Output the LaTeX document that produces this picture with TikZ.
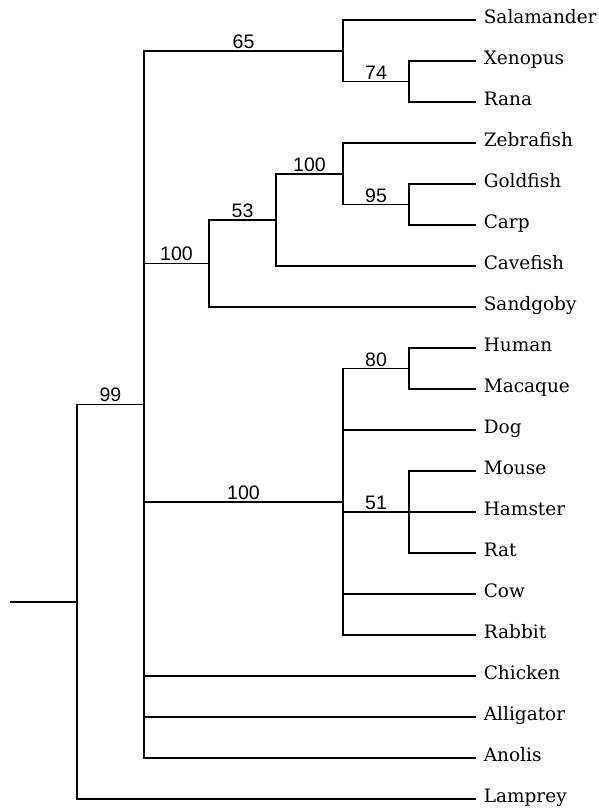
\documentclass[tikz,border=0pt]{standalone}
\usepackage{fontspec}
\newfontfamily\bootfont{Liberation Sans}
\newfontfamily\taxonfont{DejaVu Serif}

\begin{document}
\begin{tikzpicture}[x=1pt,y=-1pt,line width=1.6pt,
    leaf/.style={anchor=west,inner xsep=7pt,inner ysep=0pt,text height=0.72em,text depth=0pt,
                 font=\taxonfont\fontsize{18.5}{22}\selectfont},
    boot/.style={above,pos=0.75,inner sep=1.5pt,font=\bootfont\fontsize{19.5}{23}\selectfont},
    elbow/.style={to path={|- (\tikztotarget) \tikztonodes}}]
        \useasboundingbox (0,0) rectangle (598,810);

        % taxa
        \node[leaf] (sal)   at (476,20)  {Salamander};
        \node[leaf] (xen)   at (476,61)  {Xenopus};
        \node[leaf] (rana)  at (476,102) {Rana};
        \node[leaf] (zeb)   at (476,143) {Zebrafish};
        \node[leaf] (gold)  at (476,184) {Goldfish};
        \node[leaf] (carp)  at (476,225) {Carp};
        \node[leaf] (cave)  at (476,266) {Cavefish};
        \node[leaf] (sand)  at (476,307) {Sandgoby};
        \node[leaf] (human) at (476,348) {Human};
        \node[leaf] (mac)   at (476,389) {Macaque};
        \node[leaf] (dog)   at (476,430) {Dog};
        \node[leaf] (mouse) at (476,471) {Mouse};
        \node[leaf] (ham)   at (476,512) {Hamster};
        \node[leaf] (rat)   at (476,553) {Rat};
        \node[leaf] (cow)   at (476,594) {Cow};
        \node[leaf] (rab)   at (476,635) {Rabbit};
        \node[leaf] (chick) at (476,676) {Chicken};
        \node[leaf] (alli)  at (476,717) {Alligator};
        \node[leaf] (ano)   at (476,758) {Anolis};
        \node[leaf] (lam)   at (476,799) {Lamprey};

        % internal nodes
        \coordinate (stem)  at (10,601.7);
        \coordinate (root)  at (77,601.7);
        \coordinate (vert)  at (144,404.4);
        \coordinate (amph)  at (343,50.8);
        \coordinate (frog)  at (409,81.5);
        \coordinate (fish)  at (209,263.4);
        \coordinate (teleo) at (276,219.9);
        \coordinate (cypr)  at (343,173.8);
        \coordinate (carps) at (409,204.5);
        \coordinate (mamm)  at (343,501.8);
        \coordinate (prim)  at (409,368.5);
        \coordinate (rod)   at (409,512);

        \path
        (stem)  edge                             (root)
        (root)  edge [elbow] node[boot] {99}     (vert)
                edge [elbow]                     (lam)
        (vert)  edge [elbow] node[boot] {65}     (amph)
                edge [elbow] node[boot] {100}    (fish)
                edge [elbow] node[boot] {100}    (mamm)
                edge [elbow]                     (chick)
                edge [elbow]                     (alli)
                edge [elbow]                     (ano)
        (amph)  edge [elbow]                     (sal)
                edge [elbow] node[boot] {74}     (frog)
        (frog)  edge [elbow]                     (xen)
                edge [elbow]                     (rana)
        (fish)  edge [elbow] node[boot] {53}     (teleo)
                edge [elbow]                     (sand)
        (teleo) edge [elbow] node[boot] {100}    (cypr)
                edge [elbow]                     (cave)
        (cypr)  edge [elbow]                     (zeb)
                edge [elbow] node[boot] {95}     (carps)
        (carps) edge [elbow]                     (gold)
                edge [elbow]                     (carp)
        (mamm)  edge [elbow] node[boot] {80}     (prim)
                edge [elbow]                     (dog)
                edge [elbow] node[boot] {51}     (rod)
                edge [elbow]                     (cow)
                edge [elbow]                     (rab)
        (prim)  edge [elbow]                     (human)
                edge [elbow]                     (mac)
        (rod)   edge [elbow]                     (mouse)
                edge [elbow]                     (ham)
                edge [elbow]                     (rat);
\end{tikzpicture}
\end{document}
